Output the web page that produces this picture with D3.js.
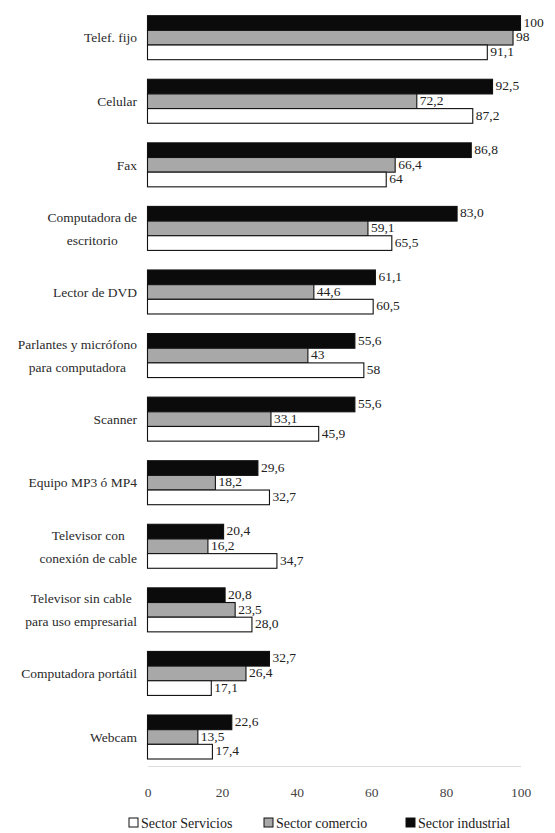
<!DOCTYPE html>
<html>
<head>
<meta charset="utf-8">
<script src="https://cdn.jsdelivr.net/npm/d3@7/dist/d3.min.js"></script>
<style>
  html, body { margin: 0; padding: 0; background: #fff; }
  svg { display: block; }
</style>
</head>
<body>
<svg id="chart" width="555" height="833"></svg>
<script>
// Equipment categories (each entry = lines of the label)
const categories = [
  ["Telef. fijo"],
  ["Celular"],
  ["Fax"],
  ["Computadora de", "escritorio"],
  ["Lector de DVD"],
  ["Parlantes y micrófono", "para computadora"],
  ["Scanner"],
  ["Equipo MP3 ó MP4"],
  ["Televisor con", "conexión de cable"],
  ["Televisor sin cable", "para uso empresarial"],
  ["Computadora portátil"],
  ["Webcam"]
];

// Percentages per sector, as printed
const industrial = ["100", "92,5", "86,8", "83,0", "61,1", "55,6", "55,6", "29,6", "20,4", "20,8", "32,7", "22,6"];
const comercio   = ["98", "72,2", "66,4", "59,1", "44,6", "43", "33,1", "18,2", "16,2", "23,5", "26,4", "13,5"];
const servicios  = ["91,1", "87,2", "64", "65,5", "60,5", "58", "45,9", "32,7", "34,7", "28,0", "17,1", "17,4"];

const tickValues = [0, 20, 40, 60, 80, 100];

const seriesNames = ["Sector industrial", "Sector comercio", "Sector Servicios"];
const legendOrder = ["Sector Servicios", "Sector comercio", "Sector industrial"];
const seriesFill = { "Sector industrial": "#0b0b0b", "Sector comercio": "#a8a8a8", "Sector Servicios": "#ffffff" };

const FONT = "Liberation Serif";
const parseVal = s => +s.replace(",", ".");
const seriesData = {
  "Sector industrial": industrial,
  "Sector comercio": comercio,
  "Sector Servicios": servicios
};

const svg = d3.select("#chart");

const x = d3.scaleLinear().domain([0, 100]).range([147.5, 520.5]);
const y = d3.scaleBand().domain(d3.range(categories.length)).range([15.7, 759]).paddingInner(0.308).paddingOuter(0);
const ySub = d3.scaleBand().domain(seriesNames).range([0, y.bandwidth()]);

// Axis along the bottom
const axis = svg.append("g")
  .attr("transform", "translate(0,766)")
  .call(d3.axisBottom(x).tickValues(tickValues).tickSize(0).tickPadding(21).tickFormat(d3.format("d")));
axis.attr("font-family", FONT).attr("font-size", 13.5);
axis.select(".domain").attr("stroke", "#dcdcdc").attr("stroke-width", 1);
axis.selectAll("text")
  .style("font-family", FONT)
  .attr("fill", "#444");

// Bar groups
const groups = svg.append("g").selectAll("g")
  .data(categories.map((c, i) => i))
  .join("g")
  .attr("transform", i => `translate(0,${y(i)})`);

const rows = groups.selectAll("g.bar")
  .data(i => seriesNames.map(s => ({ s, label: seriesData[s][i], v: parseVal(seriesData[s][i]) })))
  .join("g").attr("class", "bar");

rows.append("rect")
  .attr("x", x(0))
  .attr("y", d => ySub(d.s))
  .attr("width", d => x(d.v) - x(0))
  .attr("height", ySub.bandwidth())
  .attr("fill", d => seriesFill[d.s])
  .attr("stroke", "#111")
  .attr("stroke-width", 1.1);

rows.append("text")
  .attr("x", d => x(d.v) + 3)
  .attr("y", d => ySub(d.s) + ySub.bandwidth() / 2 - 1)
  .attr("dy", "0.35em")
  .style("font-family", FONT)
  .attr("font-size", 13.5)
  .attr("fill", "#222")
  .text(d => d.label);

// Category labels: lines centred on each other, block right-aligned
const labelRight = 137;
const lineGap = 23;
groups.each(function (i) {
  const g = d3.select(this);
  const lines = categories[i];
  const cy = y.bandwidth() / 2;
  const t = g.append("text")
    .style("font-family", FONT)
    .attr("font-size", 13.5)
    .attr("fill", "#2a2a2a")
    .attr("text-anchor", "middle");
  lines.forEach((ln, k) => {
    t.append("tspan")
      .attr("x", 0)
      .attr("y", cy + (k - (lines.length - 1) / 2) * lineGap)
      .attr("dy", "0.35em")
      .text(ln);
  });
  let maxW = 0;
  t.selectAll("tspan").each(function () { maxW = Math.max(maxW, this.getComputedTextLength()); });
  t.attr("transform", `translate(${labelRight - maxW / 2},0)`);
});

// Legend
const legendX = { "Sector Servicios": 129, "Sector comercio": 264, "Sector industrial": 406 };
const legend = svg.append("g").attr("transform", "translate(0,823)");
legendOrder.forEach(name => {
  const lg = legend.append("g").attr("transform", `translate(${legendX[name]},0)`);
  lg.append("rect")
    .attr("x", 0).attr("y", -5)
    .attr("width", 9).attr("height", 9)
    .attr("fill", seriesFill[name])
    .attr("stroke", "#111").attr("stroke-width", 1);
  lg.append("text")
    .attr("x", 12).attr("y", 0).attr("dy", "0.35em")
    .style("font-family", FONT)
    .attr("font-size", 14)
    .attr("fill", "#222")
    .text(name);
});
</script>
</body>
</html>
